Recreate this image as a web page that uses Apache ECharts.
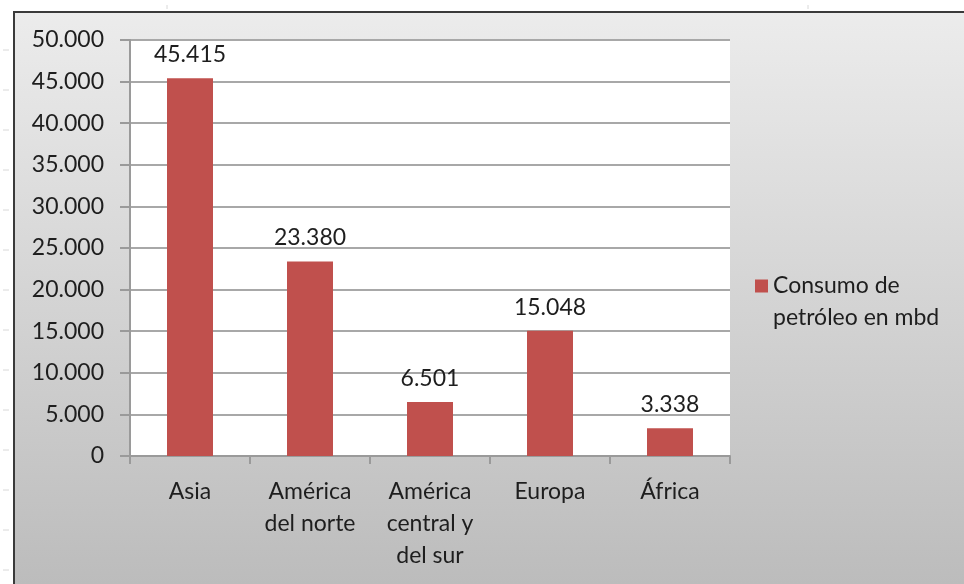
<!DOCTYPE html>
<html>
<head>
<meta charset="utf-8">
<script src="https://cdn.jsdelivr.net/npm/echarts@6/dist/echarts.min.js"></script>
<style>html,body{margin:0;padding:0;background:#fff}#c{width:964px;height:584px}</style>
</head>
<body>
<div id="c"></div>
<script>
var categories = ['Asia', 'América\ndel norte', 'América\ncentral y\ndel sur', 'Europa', 'África'];
var seriesName = 'Consumo de\npetróleo en mbd';
var values = [45415, 23380, 6501, 15048, 3338];

function fmt(v) { return String(v).replace(/\B(?=(\d{3})+(?!\d))/g, '.'); }

var FONT = 'Lato';
var TXT = '#1e1e1e';

var marginTicks = [];
for (var y = 50; y <= 570; y += 40) {
  marginTicks.push({type: 'line', z: -50, shape: {x1: 3, y1: y, x2: 9, y2: y}, style: {stroke: '#d8d8d8', lineWidth: 1}});
}

var chart = echarts.init(document.getElementById('c'), null, {renderer: 'canvas'});
chart.setOption({
  backgroundColor: '#ffffff',
  animation: false,
  graphic: [
    {type: 'rect', z: -100, shape: {x: 13, y: 11, width: 951, height: 573},
     style: {fill: new echarts.graphic.LinearGradient(0, 0, 0, 1, [{offset: 0, color: '#ececec'}, {offset: 1, color: '#bcbcbc'}])}},
    {type: 'line', z: -90, shape: {x1: 13, y1: 12, x2: 964, y2: 12}, style: {stroke: '#3a3a3a', lineWidth: 2}},
    {type: 'line', z: -90, shape: {x1: 14, y1: 11, x2: 14, y2: 584}, style: {stroke: '#3a3a3a', lineWidth: 2}},
    {type: 'line', z: -90, shape: {x1: 167, y1: 5, x2: 167, y2: 9}, style: {stroke: '#d8d8d8', lineWidth: 1}},
    {type: 'line', z: -90, shape: {x1: 808, y1: 5, x2: 808, y2: 9}, style: {stroke: '#d8d8d8', lineWidth: 1}}
  ].concat(marginTicks),
  grid: {left: 130, top: 40, right: 234, bottom: 128, show: true, backgroundColor: '#ffffff', borderWidth: 0, containLabel: false},
  legend: {
    show: true, left: 755, top: 238, padding: 0, orient: 'vertical',
    icon: 'rect', itemWidth: 13, itemHeight: 13, itemGap: 6,
    selectedMode: false,
    formatter: function (name) { return ' \n' + name; },
    textStyle: {fontFamily: FONT, fontSize: 23, color: TXT, lineHeight: 32},
    data: [seriesName]
  },
  xAxis: {
    type: 'category',
    data: categories,
    boundaryGap: true,
    axisLine: {show: true, lineStyle: {color: '#9a9a9a', width: 2}},
    axisTick: {show: true, length: 8, alignWithLabel: false, lineStyle: {color: '#9a9a9a', width: 2}},
    axisLabel: {fontFamily: FONT, fontSize: 23, color: TXT, lineHeight: 32, margin: 20, interval: 0}
  },
  yAxis: {
    type: 'value',
    min: 0, max: 50000, interval: 5000,
    axisLine: {show: true, lineStyle: {color: '#9a9a9a', width: 2}},
    axisTick: {show: true, length: 10, lineStyle: {color: '#9a9a9a', width: 2}},
    splitLine: {show: true, lineStyle: {color: '#a8a8a8', width: 2}},
    axisLabel: {fontFamily: FONT, fontSize: 23, color: TXT, margin: 26, formatter: function (v) { return fmt(v); }}
  },
  series: [{
    name: seriesName,
    type: 'bar',
    data: values,
    barWidth: 46,
    itemStyle: {color: '#c0504d'},
    label: {show: true, position: 'top', distance: 12, fontFamily: FONT, fontSize: 23, color: TXT, formatter: function (p) { return fmt(p.value); }}
  }]
});
</script>
</body>
</html>
